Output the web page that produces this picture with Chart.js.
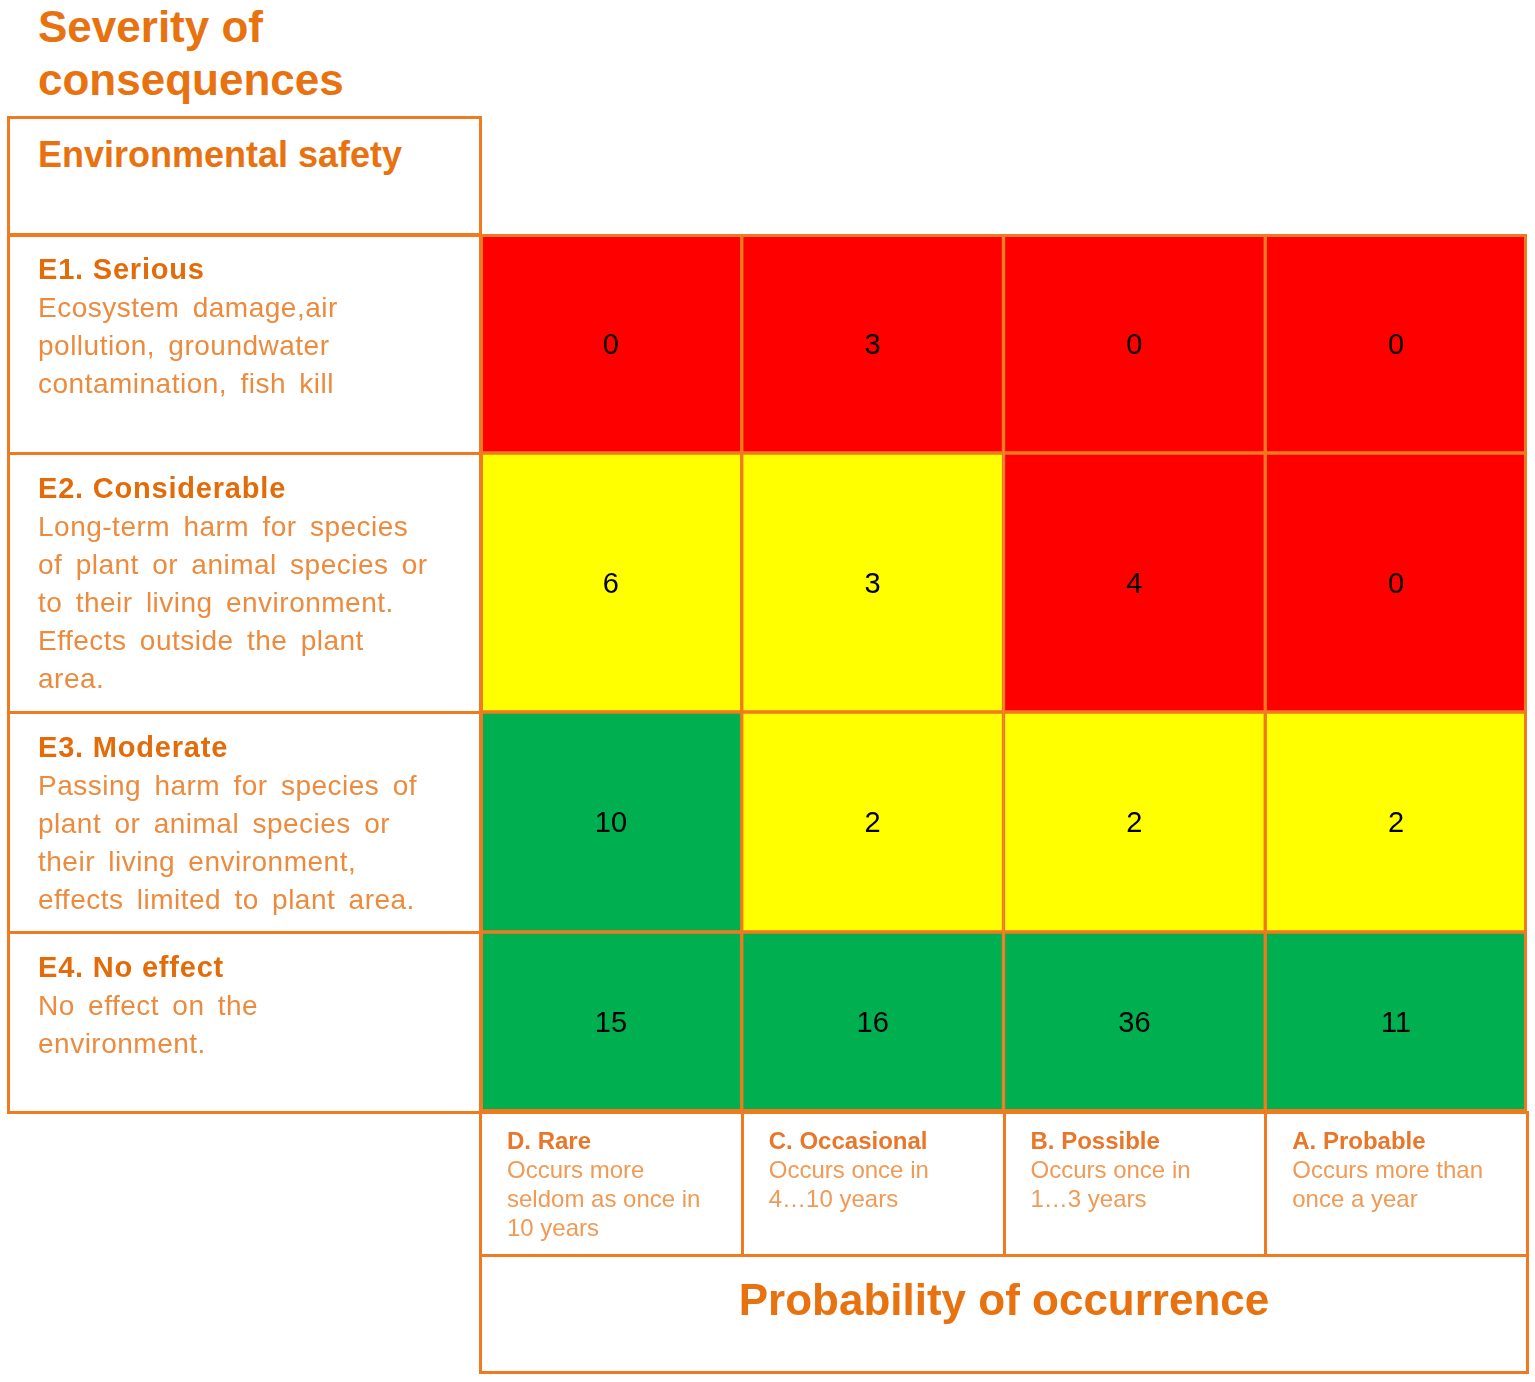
<!DOCTYPE html>
<html>
<head>
  <script src="https://cdn.jsdelivr.net/npm/chart.js"></script>
  <style>
    body { margin: 0; background: #fff; font-family: "Liberation Sans", Arial, sans-serif; }
    #page { position: relative; width: 1535px; height: 1382px; }
    .box { position: absolute; box-sizing: border-box; border: 3px solid #EF7A1F; }
    .title { position: absolute; left: 38px; top: 0; font-size: 44px; line-height: 53px; font-weight: bold; color: #E8720F; }
    .sev { padding: 14px 0 0 28px; font-size: 28px; line-height: 38px; white-space: nowrap; }
    .sev b { color: #E36C0A; letter-spacing: 0.8px; font-size: 29px; }
    .sev span { color: #EC8B3E; letter-spacing: 0.5px; word-spacing: 5px; }
    .prob { padding: 12px 0 0 25px; font-size: 24px; line-height: 29px; white-space: nowrap; }
    .prob b { color: #E8772A; }
    .prob span { color: #F09A55; }
    #chartWrap { position: absolute; }
  </style>
</head>
<body>
<div id="page">
  <div class="title">Severity of<br>consequences</div>
  <div class="box" style="left:7px; top:116px; width:475px; height:121px; padding:14px 0 0 28px;">
    <div style="font-size:36px; line-height:44px; font-weight:bold; color:#E8720F; white-space:nowrap;">Environmental safety</div>
  </div>
  <div id="chartWrap"><canvas id="matrixCanvas"></canvas></div>
</div>

<script>
  // Severity rows (top to bottom) and probability columns (left to right)
  var severityLabels = ['E1. Serious', 'E2. Considerable', 'E3. Moderate', 'E4. No effect'];
  var severityNotes = [
    ['Ecosystem damage,air', 'pollution,  groundwater', 'contamination, fish kill'],
    ['Long-term harm for species', 'of plant or animal species or', 'to their living environment.', 'Effects outside the plant', 'area.'],
    ['Passing harm for species of', 'plant or animal species or', 'their living environment,', 'effects limited to plant area.'],
    ['No effect on the', 'environment.']
  ];
  var probabilityLabels = ['D. Rare', 'C. Occasional', 'B. Possible', 'A. Probable'];
  var probabilityNotes = [
    ['Occurs more', 'seldom as once in', '10 years'],
    ['Occurs once in', '4\u202610 years'],
    ['Occurs once in', '1\u20263 years'],
    ['Occurs more than', 'once a year']
  ];

  // number of events per cell, one array per severity row
  var countsE1 = [0, 3, 0, 0];
  var countsE2 = [6, 3, 4, 0];
  var countsE3 = [10, 2, 2, 2];
  var countsE4 = [15, 16, 36, 11];
  var counts = [countsE1, countsE2, countsE3, countsE4];

  // risk level per cell
  var riskE1 = ['high', 'high', 'high', 'high'];
  var riskE2 = ['medium', 'medium', 'high', 'high'];
  var riskE3 = ['low', 'medium', 'medium', 'medium'];
  var riskE4 = ['low', 'low', 'low', 'low'];
  var risks = [riskE1, riskE2, riskE3, riskE4];

  // layout
  var riskColors = { high: '#FF0000', medium: '#FFFF00', low: '#00B050' };
  var lineColor = '#EF7A1F';
  var gridLeft = 480, gridTop = 234, gridWidth = 1047;
  var rowHeights = [219, 259, 220, 180];
  var colLabelHeight = 143, footerHeight = 117;

  var page = document.getElementById('page');
  var rowStarts = [];
  var acc = 0;
  rowHeights.forEach(function(h) { rowStarts.push(acc); acc += h; });
  var gridHeight = acc;

  // left-hand severity boxes
  severityLabels.forEach(function(label, i) {
    var div = document.createElement('div');
    div.className = 'box sev';
    div.style.left = '7px';
    div.style.top = (gridTop + rowStarts[i] - 1) + 'px';
    div.style.width = (gridLeft - 5) + 'px';
    div.style.height = (rowHeights[i] + 3) + 'px';
    div.innerHTML = '<b>' + label + '</b><br><span>' + severityNotes[i].join('<br>') + '</span>';
    page.appendChild(div);
  });

  // bottom probability boxes
  var colW = gridWidth / probabilityLabels.length;
  probabilityLabels.forEach(function(label, j) {
    var div = document.createElement('div');
    div.className = 'box prob';
    div.style.left = (gridLeft - 1 + j * colW) + 'px';
    div.style.top = (gridTop + gridHeight - 1) + 'px';
    div.style.width = (colW + 3) + 'px';
    div.style.height = (colLabelHeight + 3) + 'px';
    div.innerHTML = '<b>' + label + '</b><br><span>' + probabilityNotes[j].join('<br>') + '</span>';
    page.appendChild(div);
  });

  var footer = document.createElement('div');
  footer.className = 'box';
  footer.style.left = (gridLeft - 1) + 'px';
  footer.style.top = (gridTop + gridHeight + colLabelHeight - 1) + 'px';
  footer.style.width = (gridWidth + 3) + 'px';
  footer.style.height = (footerHeight + 3) + 'px';
  footer.style.textAlign = 'center';
  footer.style.padding = '16px 0 0 0';
  footer.innerHTML = '<div style="font-size:44px; line-height:53px; font-weight:bold; color:#E8720F;">Probability of occurrence</div>';
  page.appendChild(footer);

  // the matrix itself
  var wrap = document.getElementById('chartWrap');
  wrap.style.left = gridLeft + 'px';
  wrap.style.top = gridTop + 'px';
  var canvas = document.getElementById('matrixCanvas');
  canvas.width = gridWidth;
  canvas.height = gridHeight;
  canvas.style.width = gridWidth + 'px';
  canvas.style.height = gridHeight + 'px';

  var datasets = severityLabels.map(function(label, i) {
    return {
      label: label,
      data: probabilityLabels.map(function() { return [rowStarts[i], rowStarts[i] + rowHeights[i]]; }),
      counts: counts[i],
      backgroundColor: risks[i].map(function(r) { return riskColors[r]; }),
      borderColor: lineColor,
      borderWidth: 2,
      borderSkipped: false,
      categoryPercentage: 1,
      barPercentage: 1
    };
  });

  var cellLabels = {
    id: 'cellLabels',
    afterDatasetsDraw: function(chart) {
      var ctx = chart.ctx;
      var area = chart.chartArea;
      ctx.save();
      ctx.strokeStyle = lineColor;
      ctx.lineWidth = 3;
      ctx.strokeRect(area.left + 1.5, area.top + 1.5, area.right - area.left - 3, area.bottom - area.top - 3);
      ctx.font = '29px "Liberation Sans", Arial, sans-serif';
      ctx.fillStyle = '#000';
      ctx.textAlign = 'center';
      ctx.textBaseline = 'middle';
      chart.data.datasets.forEach(function(ds, i) {
        chart.getDatasetMeta(i).data.forEach(function(bar, j) {
          ctx.fillText(String(ds.counts[j]), bar.x, (bar.y + bar.base) / 2 + 2);
        });
      });
      ctx.restore();
    }
  };

  new Chart(canvas, {
    type: 'bar',
    data: { labels: probabilityLabels, datasets: datasets },
    options: {
      responsive: false,
      animation: false,
      layout: { padding: 0 },
      plugins: { legend: { display: false }, tooltip: { enabled: false } },
      scales: {
        x: { stacked: true, display: false },
        y: { stacked: false, display: false, reverse: true, min: 0, max: gridHeight }
      }
    },
    plugins: [cellLabels]
  });
</script>
</body>
</html>
